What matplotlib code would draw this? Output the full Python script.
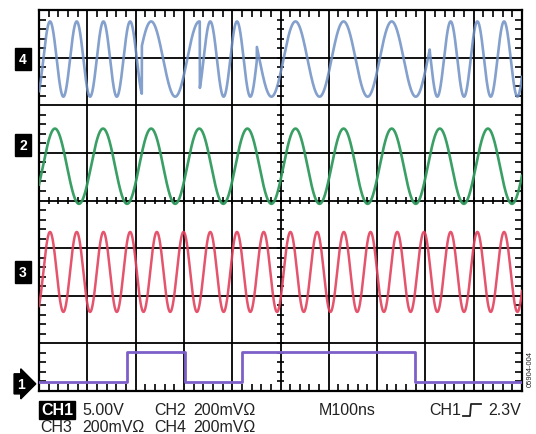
import matplotlib.pyplot as plt
import numpy as np

# --- values (time in ns, levels in divisions from bottom) ---
ch1_edges_ns = [0, 182, 302, 420, 778, 1000]
ch1_levels = [0.19, 0.82, 0.19, 0.82, 0.19, 0.19]

ch2_period_ns = 99.6
ch2_peak_ns = 33.0
ch2_center, ch2_amp = 4.72, 0.79

ch3_period_ns = 55.3
ch3_peak_ns = 22.8
ch3_center, ch3_amp = 2.50, 0.84

ch4_center, ch4_amp = 6.97, 0.79
ch4_switch_delay_ns = 31.0

marker_labels = ['4', '2', '3', '1']
marker_levels = [6.97, 5.17, 2.50, 0.15]

colors = {'1': '#7d5fc9', '2': '#2f9a5c', '3': '#e3415d', '4': '#6f8fc4'}

W, H = 536, 435
fig = plt.figure(figsize=(W / 100, H / 100), dpi=100)
plt.rcParams['font.family'] = ['Liberation Sans', 'DejaVu Sans']

left, right, top, bottom = 39, 522, 11, 392
ax = fig.add_axes([left / W, 1 - bottom / H, (right - left) / W, (bottom - top) / H])
ax.set_xlim(0, 1000)
ax.set_ylim(0, 8)

# graticule
ax.set_xticks(np.arange(0, 1001, 100))
ax.set_yticks(np.arange(0, 9, 1))
ax.grid(True, color='black', linewidth=1.3, zorder=1)
ax.set_axisbelow(True)
ax.set_xticks(np.arange(0, 1001, 20), minor=True)
ax.set_yticks(np.arange(0, 8.01, 0.2), minor=True)
ax.tick_params(which='major', length=0, labelbottom=False, labelleft=False)
ax.tick_params(which='minor', direction='in', length=5, width=1.2, color='black',
               top=True, right=True, bottom=True, left=True)
for s in ax.spines.values():
    s.set_linewidth(1.6)

# ticks on center crosshair
xm = np.arange(0, 1001, 20)
ym = np.arange(0, 8.01, 0.2)
ax.vlines(xm, 4 - 0.07, 4 + 0.07, color='black', linewidth=1.2, zorder=2)
ax.hlines(ym, 500 - 6.5, 500 + 6.5, color='black', linewidth=1.2, zorder=2)

# traces
t = np.linspace(0, 1000, 4000)
ch2_wave = np.cos(2 * np.pi * (t - ch2_peak_ns) / ch2_period_ns)
ch3_wave = np.cos(2 * np.pi * (t - ch3_peak_ns) / ch3_period_ns)

ch1_state = np.zeros_like(t)
for i in range(len(ch1_edges_ns) - 1):
    m = (t - ch4_switch_delay_ns >= ch1_edges_ns[i]) & (t - ch4_switch_delay_ns < ch1_edges_ns[i + 1])
    ch1_state[m] = 1 if ch1_levels[i] > 0.5 else 0
ch4_wave = np.where(ch1_state > 0, ch2_wave, ch3_wave)

ax.plot(t, ch4_center + ch4_amp * ch4_wave, color=colors['4'], lw=1.9, alpha=0.85, zorder=3)
ax.plot(t, ch2_center + ch2_amp * ch2_wave, color=colors['2'], lw=1.9, alpha=0.95, zorder=3)
ax.plot(t, ch3_center + ch3_amp * ch3_wave, color=colors['3'], lw=1.8, alpha=0.9, zorder=3)
ax.step(ch1_edges_ns, ch1_levels, where='post', color=colors['1'], lw=2.0, zorder=3)

# channel markers
for lab, lev in zip(marker_labels, marker_levels):
    style = 'rarrow,pad=0.22' if lab == '1' else 'square,pad=0.28'
    xpos = 21 if lab == '1' else 23
    ypix = ax.transData.transform((0, lev))[1]
    fig.text(xpos / W, ypix / H, lab, color='white',
             fontsize=10, fontweight='bold', ha='center', va='center',
             bbox=dict(boxstyle=style, facecolor='black', edgecolor='black'))

# readout text
def ftext(x, y, s, **kw):
    kw.setdefault('color', '#222222')
    fig.text(x / W, 1 - y / H, s, fontsize=11.5, va='center', **kw)

ftext(41, 411, 'CH1', color='white', fontweight='bold',
      bbox=dict(boxstyle='square,pad=0.12', facecolor='black', edgecolor='black'))
ftext(82, 411, '5.00V')
ftext(154, 411, 'CH2')
ftext(193, 411, '200mV\u03a9')
ftext(319, 411, 'M100ns')
ftext(429, 411, 'CH1')
ftext(521, 411, '2.3V', ha='right')
ftext(40, 428, 'CH3')
ftext(82, 428, '200mV\u03a9')
ftext(154, 428, 'CH4')
ftext(193, 428, '200mV\u03a9')

# trigger edge symbol
sx = np.array([463, 470, 471, 481]) / W
sy = 1 - np.array([417, 417, 405, 405]) / H
fig.add_artist(plt.Line2D(sx, sy, color='#222222', lw=1.3))

fig.text(530 / W, 1 - 369 / H, '05904-004', rotation=90, fontsize=5.5,
         color='#222222', ha='center', va='center')

fig.savefig('out.png', dpi=100)
